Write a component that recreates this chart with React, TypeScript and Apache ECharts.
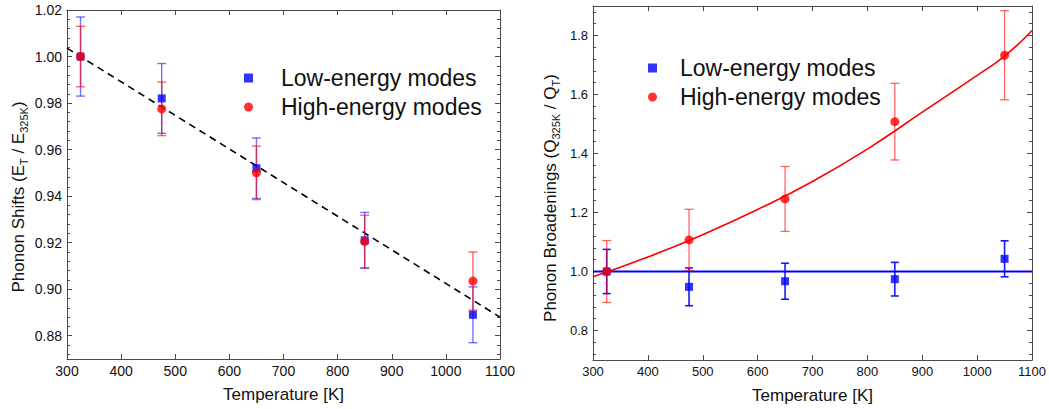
import React, { useEffect, useRef } from "react";
import * as echarts from "echarts";

// ---- data ----
const temps = [325, 475, 650, 850, 1050];

// left panel: phonon shifts
const shiftLow = [1.0, 0.982, 0.952, 0.921, 0.889];
const shiftLowErr = [0.017, 0.015, 0.013, 0.012, 0.012];
const shiftHigh = [1.0, 0.9775, 0.95, 0.9205, 0.9035];
const shiftHighErr = [0.013, 0.0115, 0.0115, 0.0113, 0.0125];
const shiftFitT = [300, 1100];
const shiftFitV = [1.0036, 0.888];

// right panel: phonon broadenings
const broadLow = [1.0, 0.948, 0.967, 0.974, 1.043];
const broadLowErr = [0.075, 0.064, 0.061, 0.057, 0.061];
const broadHigh = [1.0, 1.107, 1.246, 1.508, 1.733];
const broadHighErr = [0.105, 0.104, 0.11, 0.13, 0.151];
const flatFitT = [300, 1100];
const flatFitV = [1.0, 1.0];
const curveFitT = [300, 400, 500, 600, 700, 800, 900, 1000, 1050, 1100];
const curveFitV = [0.982, 1.049, 1.125, 1.21, 1.305, 1.415, 1.54, 1.665, 1.73, 1.817];

// tick labels
const shiftTicks = [0.88, 0.9, 0.92, 0.94, 0.96, 0.98, 1.0, 1.02];
const broadTicks = [0.8, 1.0, 1.2, 1.4, 1.6, 1.8];

const LOW = "Low-energy modes";
const HIGH = "High-energy modes";
const FONT = "'Liberation Sans', Arial, Helvetica, sans-serif";
const AX = "#4a4a4a";
const TXT = "#111";

function minorTicks(lo: number, hi: number, step: number, majors: number[]) {
  const out: number[] = [];
  const n = Math.round((hi - lo) / step);
  for (let i = 0; i <= n; i++) {
    const v = Math.round((lo + i * step) * 10000) / 10000;
    if (!majors.some((m) => Math.abs(m - v) < 1e-6)) out.push(v);
  }
  return out;
}

function errRender(color: string, width: number, cap: number) {
  return (params: any, api: any) => {
    const x = api.value(0);
    const lo = api.value(1);
    const hi = api.value(2);
    const t = api.coord([x, hi]);
    const b = api.coord([x, lo]);
    const st = { stroke: color, lineWidth: width, fill: "none" };
    return {
      type: "group",
      children: [
        { type: "line", shape: { x1: t[0], y1: t[1], x2: b[0], y2: b[1] }, style: st },
        { type: "line", shape: { x1: t[0] - cap, y1: t[1], x2: t[0] + cap, y2: t[1] }, style: st },
        { type: "line", shape: { x1: b[0] - cap, y1: b[1], x2: b[0] + cap, y2: b[1] }, style: st },
      ],
    };
  };
}

function errData(vals: number[], errs: number[]) {
  return temps.map((t, i) => [t, vals[i] - errs[i], vals[i] + errs[i]]);
}

function pts(xs: number[], ys: number[]) {
  return xs.map((x, i) => [x, ys[i]]);
}

export default function App() {
  const ref = useRef<HTMLDivElement>(null);
  useEffect(() => {
    document.body.style.margin = "0";
    const chart = echarts.init(ref.current!, null, { renderer: "svg" });

    const xBottom = (g: number, fs: number, margin: number) => ({
      gridIndex: g,
      type: "value",
      min: 300,
      max: 1100,
      interval: 100,
      position: "bottom",
      axisLine: { show: true, onZero: false, lineStyle: { color: AX, width: 1 } },
      axisTick: { show: true, inside: true, length: 5, lineStyle: { color: AX } },
      axisLabel: { fontSize: fs, color: TXT, margin, fontFamily: FONT, formatter: (v: number) => String(v) },
      splitLine: { show: false },
      name: "Temperature [K]",
      nameLocation: "middle",
      nameGap: 27,
      nameTextStyle: { fontSize: 17, color: TXT, fontFamily: FONT },
    });
    const xTop = (g: number) => ({
      gridIndex: g,
      type: "value",
      min: 300,
      max: 1100,
      interval: 100,
      position: "top",
      axisLine: { show: true, onZero: false, lineStyle: { color: AX, width: 1 } },
      axisTick: { show: true, inside: true, length: 5, lineStyle: { color: AX } },
      axisLabel: { show: false },
      splitLine: { show: false },
    });
    const yAx = (
      g: number,
      pos: string,
      min: number,
      max: number,
      ticks: number[],
      len: number,
      labels: any,
      line: boolean
    ) => ({
      gridIndex: g,
      type: "value",
      min,
      max,
      position: pos,
      axisLine: { show: line, onZero: false, lineStyle: { color: AX, width: 1 } },
      axisTick: { show: true, inside: true, length: len, customValues: ticks, lineStyle: { color: AX } },
      axisLabel: labels || { show: false },
      splitLine: { show: false },
    });

    const shiftMinor = minorTicks(0.872, 1.016, 0.004, shiftTicks);
    const broadMinor = minorTicks(0.72, 1.88, 0.04, broadTicks);

    const rich = {
      m: { fontSize: 17, fontFamily: FONT, fill: TXT, lineHeight: 17, verticalAlign: "top" },
      s: { fontSize: 11, fontFamily: FONT, fill: TXT, lineHeight: 11, verticalAlign: "top", padding: [9, 0, 0, 0] },
    };

    const option: any = {
      animation: false,
      backgroundColor: "#fff",
      grid: [
        { left: 67, right: 549, top: 10, bottom: 50 },
        { left: 593, right: 16, top: 6, bottom: 49 },
      ],
      xAxis: [xBottom(0, 14, 5), xTop(0), xBottom(1, 13, 5), xTop(1)],
      yAxis: [
        yAx(0, "left", 0.87, 1.02, shiftTicks, 5, {
          show: true,
          customValues: shiftTicks,
          formatter: (v: number) => v.toFixed(2),
          fontSize: 14,
          color: TXT,
          margin: 5,
          fontFamily: FONT,
        }, true),
        yAx(0, "left", 0.87, 1.02, shiftMinor, 3, null, false),
        yAx(0, "right", 0.87, 1.02, shiftTicks, 5, null, true),
        yAx(0, "right", 0.87, 1.02, shiftMinor, 3, null, false),
        yAx(1, "left", 0.7, 1.9, broadTicks, 5, {
          show: true,
          customValues: broadTicks,
          formatter: (v: number) => v.toFixed(1),
          fontSize: 13,
          color: TXT,
          margin: 5,
          fontFamily: FONT,
        }, true),
        yAx(1, "left", 0.7, 1.9, broadMinor, 3, null, false),
        yAx(1, "right", 0.7, 1.9, broadTicks, 5, null, true),
        yAx(1, "right", 0.7, 1.9, broadMinor, 3, null, false),
      ],
      legend: [
        {
          left: 244,
          top: 66,
          orient: "vertical",
          padding: 0,
          itemGap: 5,
          itemWidth: 9,
          itemHeight: 9,
          selectedMode: false,
          data: [
            { name: LOW, icon: "rect" },
            { name: HIGH, icon: "circle" },
          ],
          textStyle: { fontSize: 23, lineHeight: 24, padding: [0, 0, 0, 23], color: TXT, fontFamily: FONT },
        },
        {
          left: 648,
          top: 56,
          orient: "vertical",
          padding: 0,
          itemGap: 5,
          itemWidth: 9,
          itemHeight: 9,
          selectedMode: false,
          data: [
            { name: LOW, icon: "rect" },
            { name: HIGH, icon: "circle" },
          ],
          textStyle: { fontSize: 23, lineHeight: 24, padding: [0, 0, 0, 18], color: TXT, fontFamily: FONT },
        },
      ],
      graphic: [
        {
          type: "text",
          x: 18,
          y: 197,
          rotation: Math.PI / 2,
          style: {
            text: "{m|Phonon Shifts (E}{s|T}{m| / E}{s|325K}{m|)}",
            fontSize: 17,
            fontFamily: FONT,
            fill: TXT,
            align: "center",
            verticalAlign: "middle",
            textAlign: "center",
            textVerticalAlign: "middle",
            rich,
          },
        },
        {
          type: "text",
          x: 550,
          y: 198,
          rotation: Math.PI / 2,
          style: {
            text: "{m|Phonon Broadenings (Q}{s|325K}{m| / Q}{s|T}{m|)}",
            fontSize: 17,
            fontFamily: FONT,
            fill: TXT,
            align: "center",
            verticalAlign: "middle",
            textAlign: "center",
            textVerticalAlign: "middle",
            rich,
          },
        },
      ],
      series: [
        // left panel
        {
          name: "linear fit",
          type: "line",
          xAxisIndex: 0,
          yAxisIndex: 0,
          data: pts(shiftFitT, shiftFitV),
          showSymbol: false,
          symbol: "none",
          lineStyle: { color: "#000", width: 1.6, type: [7, 5] },
          z: 2,
        },
        {
          name: "low err L",
          type: "custom",
          xAxisIndex: 0,
          yAxisIndex: 0,
          data: errData(shiftLow, shiftLowErr),
          encode: { x: 0, y: [1, 2] },
          renderItem: errRender("rgba(0,0,255,0.55)", 1.4, 4.5),
          z: 3,
        },
        {
          name: "high err L",
          type: "custom",
          xAxisIndex: 0,
          yAxisIndex: 0,
          data: errData(shiftHigh, shiftHighErr),
          encode: { x: 0, y: [1, 2] },
          renderItem: errRender("rgba(255,0,0,0.6)", 1.4, 4.5),
          z: 3,
        },
        {
          name: LOW,
          type: "scatter",
          xAxisIndex: 0,
          yAxisIndex: 0,
          data: pts(temps, shiftLow),
          symbol: "rect",
          symbolSize: 8,
          itemStyle: { color: "#0000ff" },
          z: 4,
        },
        {
          name: HIGH,
          type: "scatter",
          xAxisIndex: 0,
          yAxisIndex: 0,
          data: pts(temps, shiftHigh),
          symbol: "circle",
          symbolSize: 9,
          itemStyle: { color: "#ff0000" },
          z: 5,
        },
        // right panel
        {
          name: "flat fit",
          type: "line",
          xAxisIndex: 2,
          yAxisIndex: 4,
          data: pts(flatFitT, flatFitV),
          showSymbol: false,
          symbol: "none",
          lineStyle: { color: "#0000ff", width: 2 },
          z: 2,
        },
        {
          name: "curve fit",
          type: "line",
          xAxisIndex: 2,
          yAxisIndex: 4,
          data: pts(curveFitT, curveFitV),
          showSymbol: false,
          symbol: "none",
          smooth: true,
          lineStyle: { color: "#ff0000", width: 1.6 },
          z: 2,
        },
        {
          name: "low err R",
          type: "custom",
          xAxisIndex: 2,
          yAxisIndex: 4,
          data: errData(broadLow, broadLowErr),
          encode: { x: 0, y: [1, 2] },
          renderItem: errRender("rgba(0,0,255,0.9)", 1.6, 4),
          z: 3,
        },
        {
          name: "high err R",
          type: "custom",
          xAxisIndex: 2,
          yAxisIndex: 4,
          data: errData(broadHigh, broadHighErr),
          encode: { x: 0, y: [1, 2] },
          renderItem: errRender("rgba(255,0,0,0.6)", 1.3, 4.5),
          z: 3,
        },
        {
          name: LOW,
          type: "scatter",
          xAxisIndex: 2,
          yAxisIndex: 4,
          data: pts(temps, broadLow),
          symbol: "rect",
          symbolSize: 8,
          itemStyle: { color: "#0000ff" },
          z: 4,
        },
        {
          name: HIGH,
          type: "scatter",
          xAxisIndex: 2,
          yAxisIndex: 4,
          data: pts(temps, broadHigh),
          symbol: "circle",
          symbolSize: 9,
          itemStyle: { color: "#ff0000" },
          z: 5,
        },
      ],
    };
    chart.setOption(option);
    return () => chart.dispose();
  }, []);
  return <div ref={ref} style={{ width: 1049, height: 409 }} />;
}
